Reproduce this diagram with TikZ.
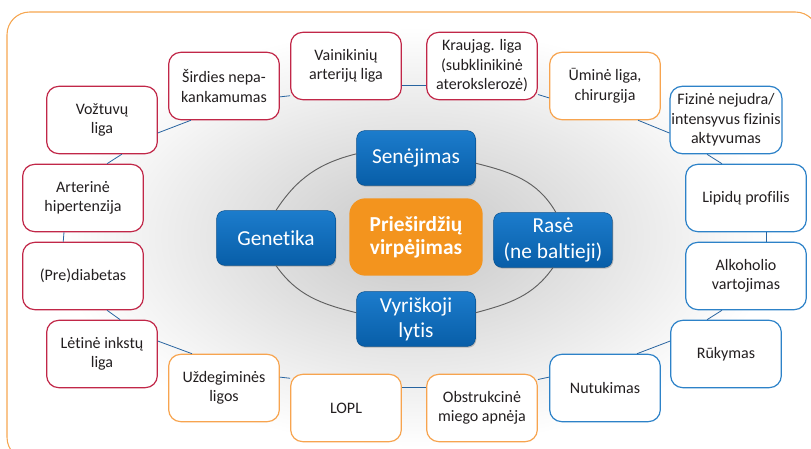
\documentclass[tikz,border=0pt]{standalone}
\usepackage{fontspec}
\setmainfont{Carlito}[Ligatures=NoCommon]
\usetikzlibrary{shadows}
\definecolor{framec}{RGB}{246,166,80}
\definecolor{redc}{RGB}{193,39,72}
\definecolor{orangec}{RGB}{247,164,79}
\definecolor{bluec}{RGB}{45,130,200}
\definecolor{linkc}{RGB}{40,100,160}
\definecolor{factortop}{RGB}{28,124,204}
\definecolor{factorbot}{RGB}{8,94,168}
\definecolor{afcol}{RGB}{243,148,30}
\definecolor{textc}{RGB}{35,31,32}

\tikzset{
	riskbox/.style={line width=.9pt, rounded corners=9pt, fill=white, text=textc, align=center, minimum height=50.5pt, inner sep=1pt, font=\fontsize{12}{14.6}\selectfont},
	factor/.style={rounded corners=6pt, top color=factortop, bottom color=factorbot, draw=factorbot!85!black, text=white, align=center, minimum width=89pt, minimum height=41pt, inner sep=1pt, font=\fontsize{16}{19}\selectfont, drop shadow={shadow xshift=.7pt, shadow yshift=-1pt, opacity=.45}},
	afbox/.style={rounded corners=12pt, fill=afcol, text=white, align=center, minimum width=100pt, minimum height=58pt, inner sep=1pt, font=\fontsize{16}{17.5}\selectfont\bfseries},
	ring/.style={linkc, line width=.6pt},
	innerring/.style={gray!75!black, line width=.7pt}
}

\begin{document}
\begin{tikzpicture}[x=0.75pt, y=-0.75pt]
	
	\clip (0,0) rectangle (811,449);
	\draw[framec, line width=.8pt, fill=white, rounded corners=17pt] (7,12) rectangle (818,460);
	\shade[inner color=black!22, outer color=white] (415,237) ellipse [x radius=360, y radius=210];
	
	\foreach \x/\y/\n/\w/\c/\t in {102/120/vozt/83pt/redc/{Vožtuvų\\liga}, 224/86/sird/83pt/redc/{Širdies nepa-\\kankamumas}, 346/66/vain/83pt/redc/{Vainikinių\\arterijų liga}, 482/66/krau/83pt/redc/{Kraujag. liga\\(subklinikinė\\aterokslerozė)}, 605/86/umin/83pt/orangec/{Ūminė liga,\\chirurgija}, 726/120/fizi/83pt/bluec/{Fizinė nejudra/\\intensyvus fizinis\\aktyvumas}, 746/198/lipi/90.5pt/bluec/{Lipidų profilis}, 746/276/alko/90.5pt/bluec/{Alkoholio\\vartojimas}, 726/354/ruky/83pt/bluec/{Rūkymas}, 605/388/nutu/83pt/bluec/{Nutukimas}, 482/408/obst/83pt/orangec/{Obstrukcinė\\miego apnėja}, 346/408/lopl/83pt/orangec/{LOPL}, 224/388/uzde/83pt/orangec/{Uždegiminės\\ligos}, 102/354/leti/83pt/redc/{Lėtinė inkstų\\liga}, 83/276/diab/90.5pt/redc/{(Pre)diabetas}, 83/198/arte/90.5pt/redc/{Arterinė\\hipertenzija}}
	{
		\node[riskbox, draw=\c, minimum width=\w] (\n) at (\x,\y) {\t};
	}
	
	\foreach \a/\b/\p/\q in {vozt/sird/-13/226, sird/vain/-11/208, vain/krau/-19/199, krau/umin/-27/192, umin/fizi/-46/193, fizi/lipi/241/125, lipi/alko/-59/59, alko/ruky/235/119, ruky/nutu/167/47, nutu/obst/169/27, obst/lopl/160/20, lopl/uzde/152/11, uzde/leti/133/13, leti/diab/62/-55, diab/arte/120/-119, arte/vozt/55/-60}
	{
		\draw[ring] (\a.\p) -- (\b.\q);
	}
	
	\node[factor] (sene) at (416,158) {Senėjimas};
	\node[factor] (gene) at (276,238) {Genetika};
	\node[factor] (rase) at (553,240) {Rasė\\(ne baltieji)};
	\node[factor] (vyri) at (416,319) {Vyriškoji\\lytis};
	\node[afbox] (af) at (416,237) {Prieširdžių\\virpėjimas};
	
	\draw[innerring] (sene.-5) to[out=-14, in=120] (rase.84);
	\draw[innerring] (rase.-90) to[out=-125, in=15] (vyri.6);
	\draw[innerring] (vyri.174) to[out=166, in=-55] (gene.-90);
	\draw[innerring] (gene.90) to[out=57, in=-166] (sene.176);

\end{tikzpicture}
\end{document}
